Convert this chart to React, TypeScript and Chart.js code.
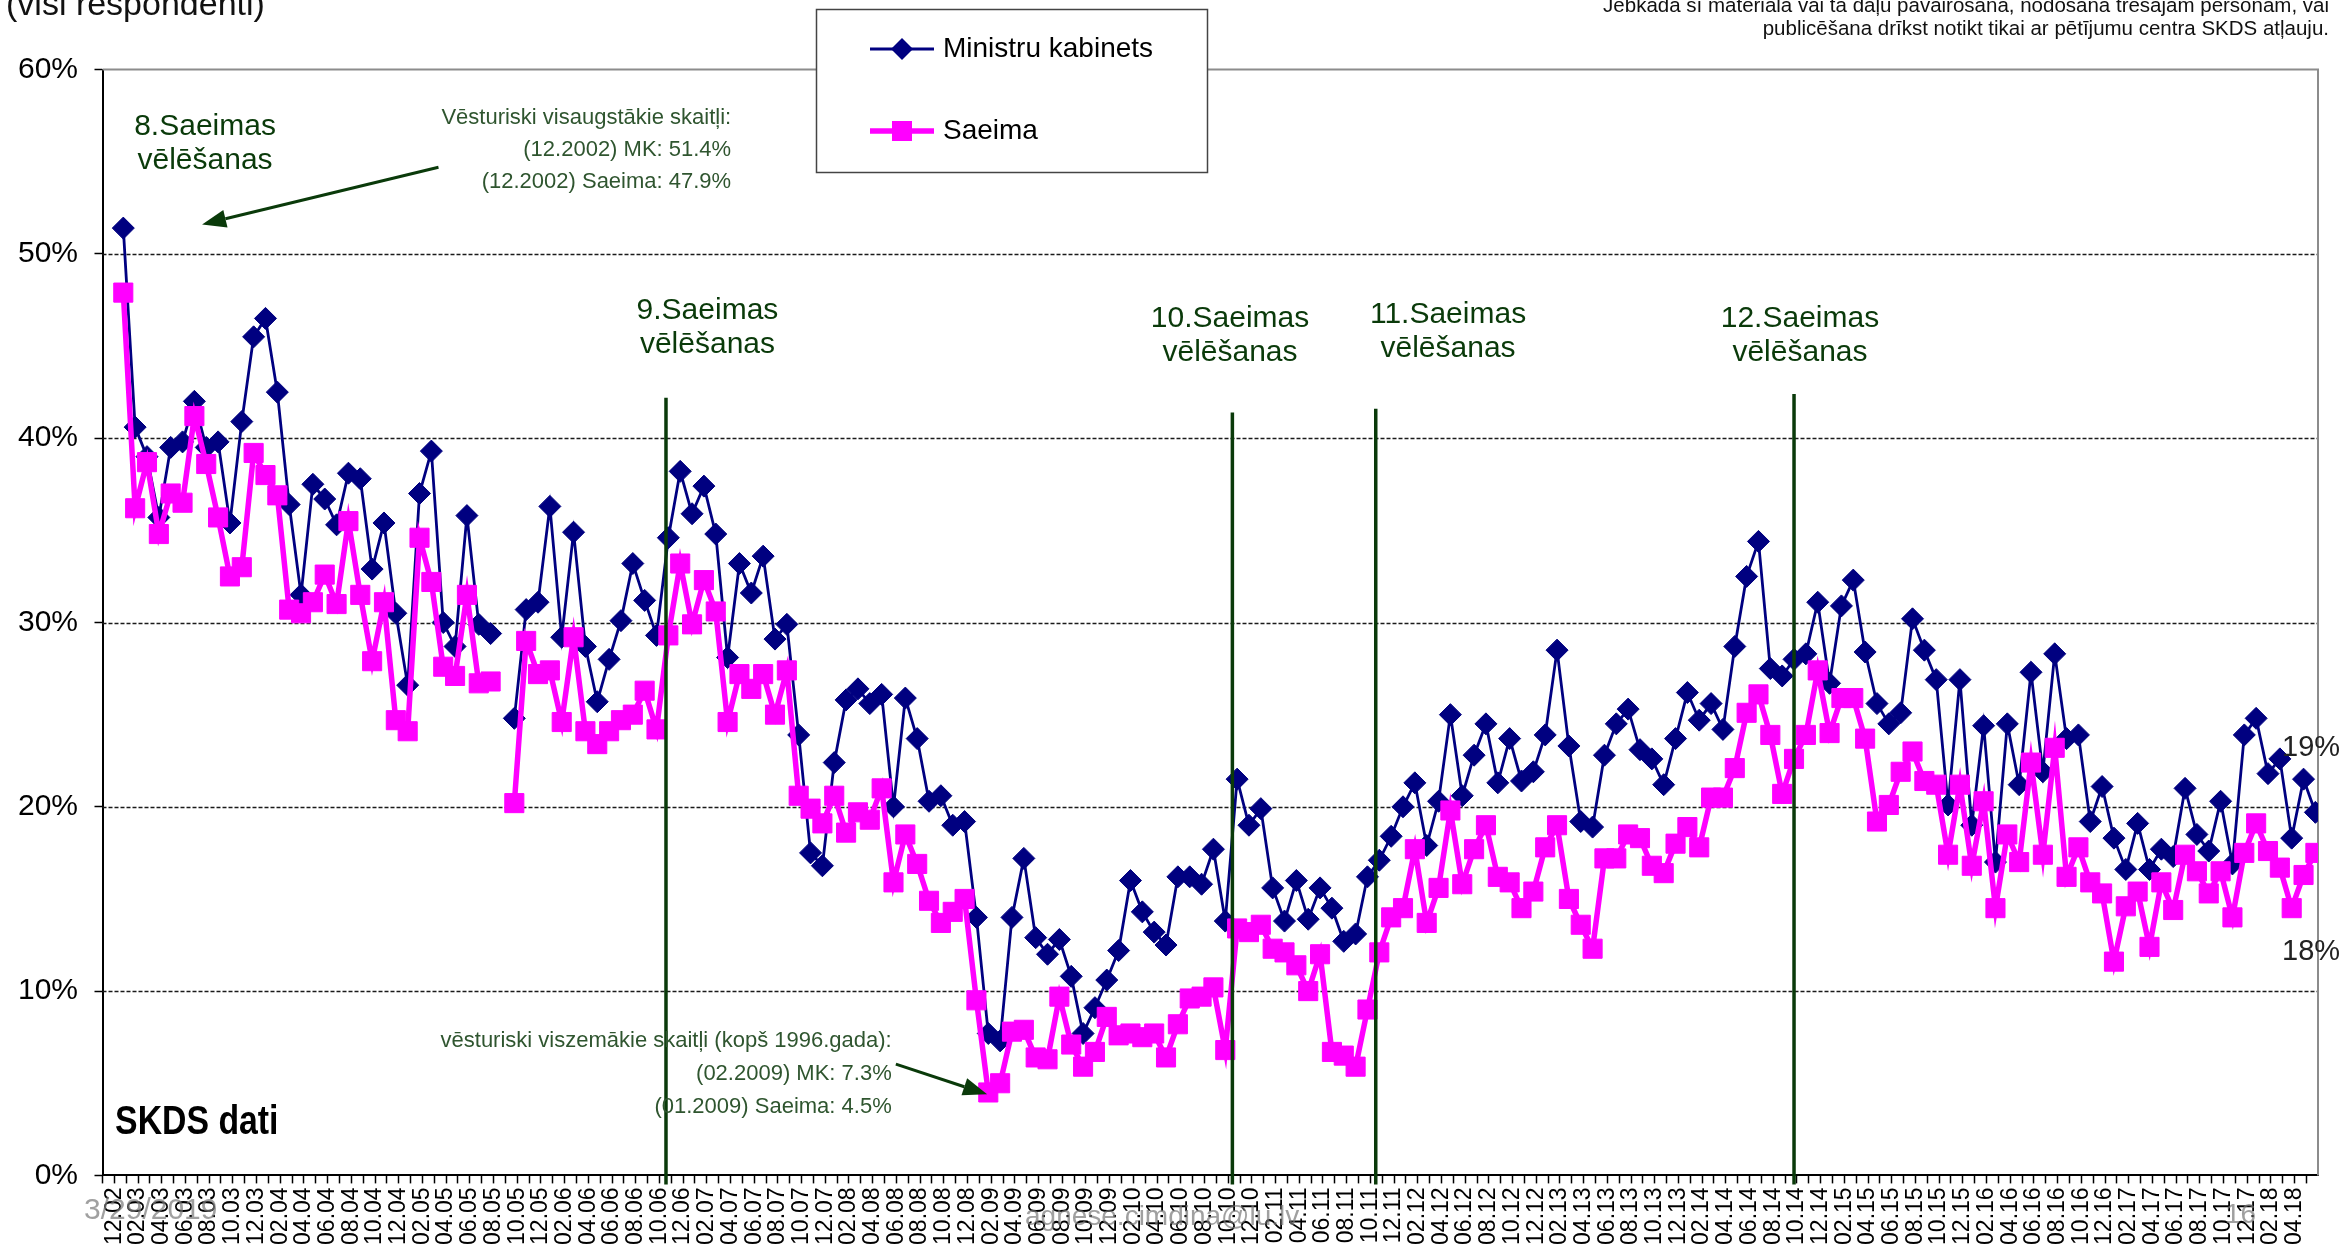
import React, { useEffect, useRef } from "react";
import { Chart, registerables } from "chart.js";
Chart.register(...registerables);

const W = 2343;
const H = 1256;
const FONT = '"Liberation Sans", Arial, Helvetica, sans-serif';

// Monthly survey values, 12.2002 ... 05.2018 (null = no survey)
const mkValues: (number | null)[] = [
  51.4, 40.6, 39.0, 35.7, 39.5, 39.8, 42.0, 39.5, 39.8, 35.4, 40.9, 45.5, 46.5, 42.5, 36.4, 31.5,
  37.5, 36.7, 35.3, 38.1, 37.8, 32.9, 35.4, 30.5, 26.6, 37.0, 39.3, 30.0, 28.7, 35.8, 29.9, 29.4,
  null, 24.8, 30.7, 31.1, 36.3, 29.2, 34.9, 28.7, 25.7, 28.0, 30.1, 33.2, 31.2, 29.3, 34.6, 38.2,
  35.9, 37.4, 34.8, 28.1, 33.2, 31.6, 33.6, 29.1, 29.9, 23.9, 17.5, 16.8, 22.4, 25.8, 26.4, 25.6,
  26.1, 20.0, 25.9, 23.7, 20.3, 20.6, 19.0, 19.2, 14.0, 7.7, 7.3, 14.0, 17.2, 12.9, 12.0, 12.8,
  10.8, 7.7, 9.1, 10.6, 12.2, 16.0, 14.3, 13.2, 12.5, 16.2, 16.2, 15.8, 17.7, 13.8, 21.5, 19.0,
  19.9, 15.6, 13.8, 16.0, 13.9, 15.6, 14.5, 12.7, 13.1, 16.2, 17.1, 18.4, 20.0, 21.3, 17.9, 20.3,
  25.0, 20.6, 22.8, 24.5, 21.3, 23.7, 21.4, 21.9, 23.9, 28.5, 23.3, 19.2, 18.9, 22.8, 24.5, 25.3,
  23.1, 22.6, 21.2, 23.7, 26.2, 24.7, 25.6, 24.2, 28.7, 32.5, 34.4, 27.5, 27.1, 28.0, 28.3, 31.1,
  26.7, 30.9, 32.3, 28.4, 25.6, 24.5, 25.1, 30.2, 28.5, 26.9, 20.1, 26.9, 19.0, 24.4, 17.0, 24.5,
  21.2, 27.3, 21.9, 28.3, 23.7, 23.9, 19.2, 21.1, 18.3, 16.6, 19.1, 16.6, 17.7, 17.3, 21.0, 18.5,
  17.6, 20.3, 16.9, 23.9, 24.8, 21.8, 22.6, 18.3, 21.5, 19.7,
];

const saeimaValues: (number | null)[] = [
  47.9, 36.2, 38.7, 34.8, 37.0, 36.5, 41.2, 38.6, 35.7, 32.5, 33.0, 39.2, 38.0, 36.9, 30.7, 30.5,
  31.1, 32.6, 31.0, 35.5, 31.5, 27.9, 31.1, 24.7, 24.1, 34.6, 32.2, 27.6, 27.1, 31.5, 26.7, 26.8,
  null, 20.2, 29.0, 27.2, 27.4, 24.6, 29.2, 24.1, 23.4, 24.1, 24.7, 25.0, 26.3, 24.2, 29.3, 33.2,
  29.9, 32.3, 30.6, 24.6, 27.2, 26.4, 27.2, 25.0, 27.4, 20.6, 19.9, 19.1, 20.6, 18.6, 19.7, 19.3,
  21.0, 15.9, 18.5, 16.9, 14.9, 13.7, 14.3, 15.0, 9.5, 4.5, 5.0, 7.8, 7.9, 6.4, 6.3, 9.7,
  7.1, 5.9, 6.7, 8.6, 7.6, 7.7, 7.5, 7.7, 6.4, 8.2, 9.6, 9.7, 10.2, 6.8, 13.4, 13.2,
  13.6, 12.3, 12.1, 11.4, 10.0, 12.0, 6.7, 6.5, 5.9, 9.0, 12.1, 14.0, 14.5, 17.7, 13.7, 15.6,
  19.8, 15.8, 17.7, 19.0, 16.2, 15.9, 14.5, 15.4, 17.8, 19.0, 15.0, 13.6, 12.3, 17.2, 17.2, 18.5,
  18.3, 16.8, 16.4, 18.0, 18.9, 17.8, 20.5, 20.5, 22.1, 25.1, 26.1, 23.9, 20.7, 22.6, 23.9, 27.4,
  24.0, 25.9, 25.9, 23.7, 19.2, 20.1, 21.9, 23.0, 21.4, 21.2, 17.4, 21.2, 16.8, 20.3, 14.5, 18.5,
  17.0, 22.4, 17.4, 23.2, 16.2, 17.8, 15.9, 15.3, 11.6, 14.6, 15.4, 12.4, 15.9, 14.4, 17.4, 16.5,
  15.3, 16.5, 14.0, 17.5, 19.1, 17.6, 16.7, 14.5, 16.3, 17.5,
];

// Axis labels, shown on every second month starting with the first one
const tickLabels = [
  "12.02",
  "02.03", "04.03", "06.03", "08.03", "10.03", "12.03",
  "02.04", "04.04", "06.04", "08.04", "10.04", "12.04",
  "02.05", "04.05", "06.05", "08.05", "10.05", "12.05",
  "02.06", "04.06", "06.06", "08.06", "10.06", "12.06",
  "02.07", "04.07", "06.07", "08.07", "10.07", "12.07",
  "02.08", "04.08", "06.08", "08.08", "10.08", "12.08",
  "02.09", "04.09", "06.09", "08.09", "10.09", "12.09",
  "02.10", "04.10", "06.10", "08.10", "10.10", "12.10",
  "02.11", "04.11", "06.11", "08.11", "10.11", "12.11",
  "02.12", "04.12", "06.12", "08.12", "10.12", "12.12",
  "02.13", "04.13", "06.13", "08.13", "10.13", "12.13",
  "02.14", "04.14", "06.14", "08.14", "10.14", "12.14",
  "02.15", "04.15", "06.15", "08.15", "10.15", "12.15",
  "02.16", "04.16", "06.16", "08.16", "10.16", "12.16",
  "02.17", "04.17", "06.17", "08.17", "10.17", "12.17",
  "02.18", "04.18",
];

const yTickValues = [0, 10, 20, 30, 40, 50, 60];
const dashedGrid = [10, 20, 30, 40, 50];
const TICK_SHIFT = 0.755; // category tick marks sit left of each survey point

// Election markers (x in month index units, y in % units)
const electionLines = [
  { x: 45.8, top: 42.2 },
  { x: 93.6, top: 41.4 },
  { x: 105.7, top: 41.6 },
  { x: 141.0, top: 42.4 },
];
const electionLabels = [
  { name: "8.Saeimas", x: 6.9, y: 56.9 },
  { name: "9.Saeimas", x: 49.3, y: 46.9 },
  { name: "10.Saeimas", x: 93.4, y: 46.5 },
  { name: "11.Saeimas", x: 111.8, y: 46.7 },
  { name: "12.Saeimas", x: 141.5, y: 46.5 },
];

const highNote = ["Vēsturiski visaugstākie skaitļi:", "(12.2002) MK: 51.4%", "(12.2002) Saeima: 47.9%"];
const lowNote = ["vēsturiski viszemākie skaitļi (kopš 1996.gada):", "(02.2009) MK: 7.3%", "(01.2009) Saeima: 4.5%"];

const NAVY = "#000080";
const MAGENTA = "#FF00FF";
const GREEN = "#0a3a0a";
const NOTE_GREEN = "#2f552f";

function arrow(ctx: CanvasRenderingContext2D, x1: number, y1: number, x2: number, y2: number) {
  const ang = Math.atan2(y2 - y1, x2 - x1);
  const hl = 24;
  const hw = 9;
  const bx = x2 - Math.cos(ang) * hl;
  const by = y2 - Math.sin(ang) * hl;
  ctx.strokeStyle = GREEN;
  ctx.fillStyle = GREEN;
  ctx.lineWidth = 3;
  ctx.beginPath();
  ctx.moveTo(x1, y1);
  ctx.lineTo(bx, by);
  ctx.stroke();
  ctx.beginPath();
  ctx.moveTo(x2, y2);
  ctx.lineTo(bx + Math.sin(ang) * hw, by - Math.cos(ang) * hw);
  ctx.lineTo(bx - Math.sin(ang) * hw, by + Math.cos(ang) * hw);
  ctx.closePath();
  ctx.fill();
}

const overlay = {
  id: "overlay",
  beforeDraw(chart: any) {
    const ctx = chart.ctx as CanvasRenderingContext2D;
    ctx.save();
    ctx.fillStyle = "#fff";
    ctx.fillRect(0, 0, chart.width, chart.height);
    ctx.restore();
  },
  beforeDatasetsDraw(chart: any) {
    const ctx = chart.ctx as CanvasRenderingContext2D;
    const a = chart.chartArea;
    const y = chart.scales.y;
    ctx.save();
    ctx.strokeStyle = "#1a1a1a";
    ctx.lineWidth = 1.6;
    ctx.setLineDash([4, 2]);
    for (const v of dashedGrid) {
      const py = Math.round(y.getPixelForValue(v)) + 0.5;
      ctx.beginPath();
      ctx.moveTo(a.left, py);
      ctx.lineTo(a.right, py);
      ctx.stroke();
    }
    ctx.setLineDash([]);
    ctx.strokeStyle = "#8c8c8c";
    ctx.lineWidth = 2;
    ctx.beginPath();
    ctx.moveTo(a.left, a.top);
    ctx.lineTo(a.right, a.top);
    ctx.lineTo(a.right, a.bottom);
    ctx.stroke();
    ctx.restore();
  },
  afterDatasetsDraw(chart: any) {
    const ctx = chart.ctx as CanvasRenderingContext2D;
    const x = chart.scales.x;
    const y = chart.scales.y;
    ctx.save();
    // election lines
    ctx.strokeStyle = GREEN;
    ctx.lineWidth = 3.5;
    for (const e of electionLines) {
      const px = x.getPixelForValue(e.x);
      ctx.beginPath();
      ctx.moveTo(px, y.getPixelForValue(e.top));
      ctx.lineTo(px, y.getPixelForValue(-0.5));
      ctx.stroke();
    }
    // election labels
    ctx.fillStyle = GREEN;
    ctx.font = `30px ${FONT}`;
    ctx.textAlign = "center";
    ctx.textBaseline = "middle";
    for (const l of electionLabels) {
      const px = x.getPixelForValue(l.x);
      const py = y.getPixelForValue(l.y);
      ctx.fillText(l.name, px, py);
      ctx.fillText("vēlēšanas", px, py + 34);
    }
    // notes
    ctx.fillStyle = NOTE_GREEN;
    ctx.font = `22px ${FONT}`;
    ctx.textAlign = "right";
    const hx = x.getPixelForValue(51.3);
    const hy = y.getPixelForValue(57.4);
    highNote.forEach((t, i) => ctx.fillText(t, hx, hy + i * 32));
    const lx = x.getPixelForValue(64.85);
    const ly = y.getPixelForValue(7.29);
    lowNote.forEach((t, i) => ctx.fillText(t, lx, ly + i * 33));
    arrow(ctx, x.getPixelForValue(26.6), y.getPixelForValue(54.7), x.getPixelForValue(6.65), y.getPixelForValue(51.6));
    arrow(ctx, x.getPixelForValue(65.2), y.getPixelForValue(6.04), x.getPixelForValue(72.9), y.getPixelForValue(4.4));
    // SKDS dati (narrow bold)
    ctx.fillStyle = "#000";
    ctx.textAlign = "left";
    ctx.font = `bold 40px ${FONT}`;
    ctx.translate(x.getPixelForValue(-0.69), y.getPixelForValue(2.84));
    ctx.scale(0.845, 1);
    ctx.fillText("SKDS dati", 0, 0);
    ctx.restore();
  },
  afterDraw(chart: any) {
    const ctx = chart.ctx as CanvasRenderingContext2D;
    ctx.save();
    // title fragment (cut at the top)
    ctx.fillStyle = "#111";
    ctx.font = `34px ${FONT}`;
    ctx.textAlign = "left";
    ctx.textBaseline = "alphabetic";
    ctx.fillText("(visi respondenti)", 6, 15);
    // copyright note
    ctx.font = `20.5px ${FONT}`;
    ctx.textAlign = "right";
    ctx.fillText("Jebkāda šī materiāla vai tā daļu pavairošana, nodošana trešajām personām, vai", 2329, 12);
    ctx.fillText("publicēšana drīkst notikt tikai ar pētījumu centra SKDS atļauju.", 2329, 35);
    // legend box
    ctx.strokeStyle = "#444";
    ctx.lineWidth = 1.5;
    ctx.fillStyle = "#fff";
    ctx.fillRect(816, 9, 391, 163);
    ctx.strokeRect(816.5, 9.5, 391, 163);
    // MK entry
    ctx.strokeStyle = NAVY;
    ctx.fillStyle = NAVY;
    ctx.lineWidth = 2.8;
    ctx.beginPath();
    ctx.moveTo(870, 49);
    ctx.lineTo(934, 49);
    ctx.stroke();
    ctx.beginPath();
    ctx.moveTo(902, 38);
    ctx.lineTo(913, 49);
    ctx.lineTo(902, 60);
    ctx.lineTo(891, 49);
    ctx.closePath();
    ctx.fill();
    // Saeima entry
    ctx.strokeStyle = MAGENTA;
    ctx.fillStyle = MAGENTA;
    ctx.lineWidth = 5.5;
    ctx.beginPath();
    ctx.moveTo(870, 131);
    ctx.lineTo(934, 131);
    ctx.stroke();
    ctx.fillRect(892, 121, 20, 20);
    ctx.fillStyle = "#000";
    ctx.textAlign = "left";
    ctx.textBaseline = "middle";
    ctx.font = `28px ${FONT}`;
    ctx.fillText("Ministru kabinets", 943, 49);
    ctx.fillText("Saeima", 943, 131);
    // end-value labels
    ctx.fillStyle = "#222";
    ctx.font = `29px ${FONT}`;
    ctx.fillText("19%", 2282, 748);
    ctx.fillText("18%", 2282, 952);
    // faint stamp texts
    ctx.fillStyle = "rgba(120,120,120,0.7)";
    ctx.font = `30px ${FONT}`;
    ctx.fillText("3/29/2019", 84, 1211);
    ctx.font = `28px ${FONT}`;
    ctx.fillText("agnese.cimdina@lu.lv", 1025, 1217);
    ctx.fillText("16", 2225, 1215);
    ctx.restore();
  },
};

export default function App() {
  const ref = useRef<HTMLCanvasElement>(null);
  useEffect(() => {
    document.body.style.margin = "0";
    const canvas = ref.current;
    if (!canvas) return;
    Chart.defaults.font.family = FONT;
    const chart = new Chart(canvas, {
      type: "line",
      data: {
        datasets: [
          {
            label: "Saeima",
            data: saeimaValues.map((v, i) => ({ x: i, y: v })) as any,
            borderColor: MAGENTA,
            backgroundColor: MAGENTA,
            borderWidth: 5.5,
            pointStyle: "rect",
            pointRadius: 13.5,
            pointBorderWidth: 1,
            pointBorderColor: MAGENTA,
            pointBackgroundColor: MAGENTA,
            spanGaps: false,
            tension: 0,
            order: 0,
          },
          {
            label: "Ministru kabinets",
            data: mkValues.map((v, i) => ({ x: i, y: v })) as any,
            borderColor: NAVY,
            backgroundColor: NAVY,
            borderWidth: 2.8,
            pointStyle: "rectRot",
            pointRadius: 11,
            pointBorderWidth: 1,
            pointBorderColor: NAVY,
            pointBackgroundColor: NAVY,
            spanGaps: false,
            tension: 0,
            order: 1,
          },
        ],
      },
      options: {
        animation: false,
        responsive: false,
        events: [],
        layout: { padding: { top: 69.6, right: 25, left: 0, bottom: 0 } },
        plugins: { legend: { display: false }, tooltip: { enabled: false }, title: { display: false } },
        scales: {
          x: {
            type: "linear",
            min: -1.755,
            max: 185.22,
            afterBuildTicks: (scale: any) => {
              const t: { value: number }[] = [{ value: -1 - TICK_SHIFT }];
              mkValues.forEach((_, i) => t.push({ value: i - TICK_SHIFT }));
              scale.ticks = t;
            },
            afterFit: (scale: any) => {
              scale.height = 80.6;
            },
            ticks: {
              autoSkip: false,
              minRotation: 90,
              maxRotation: 90,
              padding: 4,
              color: "#000",
              font: { size: 23, family: FONT },
              callback: (value: any) => {
                const i = Math.round(Number(value) + TICK_SHIFT);
                return i >= 0 && i % 2 === 0 ? tickLabels[i / 2] ?? "" : "";
              },
            },
            grid: { drawOnChartArea: false, drawTicks: true, tickLength: 8, tickColor: "#000", tickWidth: 1.5 },
            border: { display: true, color: "#000", width: 2 },
          },
          y: {
            min: 0,
            max: 60,
            afterBuildTicks: (scale: any) => {
              scale.ticks = yTickValues.map((v) => ({ value: v }));
            },
            afterFit: (scale: any) => {
              scale.width = 102.5;
            },
            ticks: {
              padding: 16.5,
              color: "#000",
              font: { size: 30, family: FONT },
              callback: (v: any) => `${v}%`,
            },
            grid: { drawOnChartArea: false, drawTicks: true, tickLength: 8, tickColor: "#000", tickWidth: 1.5 },
            border: { display: true, color: "#000", width: 2 },
          },
        },
      },
      plugins: [overlay],
    } as any);
    return () => chart.destroy();
  }, []);
  return (
    <div style={{ width: W, height: H, position: "relative", background: "#fff" }}>
      <canvas ref={ref} width={W} height={H} style={{ width: W, height: H, display: "block" }} />
    </div>
  );
}
